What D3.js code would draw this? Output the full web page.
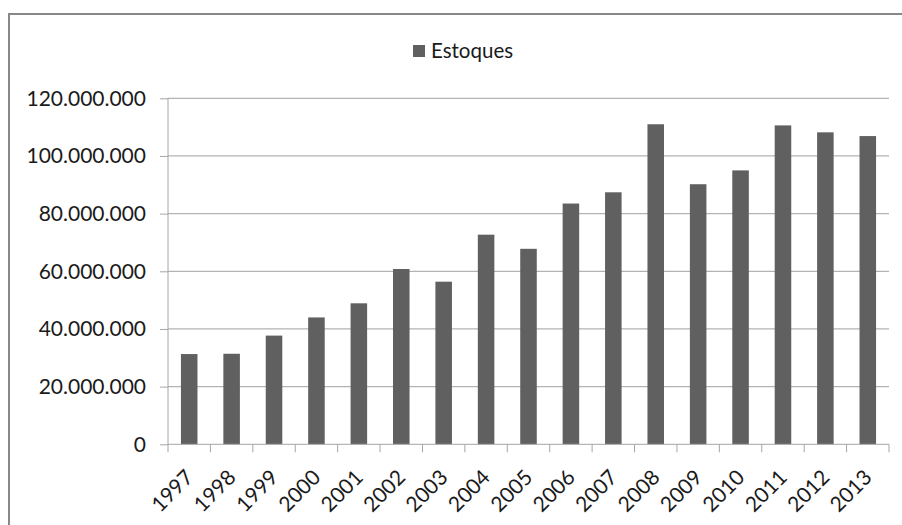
<!DOCTYPE html>
<html><head><meta charset="utf-8">
<script src="https://cdn.jsdelivr.net/npm/d3@7"></script>
<style>html,body{margin:0;padding:0;background:#fff;}svg{display:block;}</style>
</head><body>
<svg id="chart" width="902" height="525"></svg>
<script>
const years = ["1997","1998","1999","2000","2001","2002","2003","2004","2005","2006","2007","2008","2009","2010","2011","2012","2013"];
const estoques = [31300000,31400000,37700000,44000000,48900000,60800000,56400000,72700000,67800000,83500000,87400000,111000000,90200000,95000000,110600000,108200000,106900000];
const yTicks = [0,20000000,40000000,60000000,80000000,100000000,120000000];
const seriesName = "Estoques";

const svg = d3.select("#chart");
const font = "Lato, 'Open Sans', sans-serif";
const m = {left:168, right:889, top:98.3, bottom:444.3};

// frame
svg.append("path").attr("d","M9,525 L9,14 L902,14").attr("fill","none").attr("stroke","#888").attr("stroke-width",2);

const x = d3.scaleBand().domain(years).range([m.left,m.right]).paddingInner(0.61).paddingOuter(0.305);
const y = d3.scaleLinear().domain([0,120000000]).range([m.bottom,m.top]);
const fmt = v => d3.format(",")(v).replace(/,/g,".");

// gridlines
svg.append("g").selectAll("line").data(yTicks.filter(d=>d>0)).join("line")
  .attr("x1",m.left).attr("x2",m.right).attr("y1",d=>y(d)).attr("y2",d=>y(d))
  .attr("stroke","#b3b3b3").attr("stroke-width",1.2);

// bars
svg.append("g").selectAll("rect").data(estoques).join("rect")
  .attr("x",(d,i)=>x(years[i])).attr("width",x.bandwidth())
  .attr("y",d=>y(d)).attr("height",d=>y(0)-y(d))
  .attr("fill","#606060");

// y axis
const ya = svg.append("g").attr("transform",`translate(${m.left},0)`)
  .call(d3.axisLeft(y).tickValues(yTicks).tickFormat(fmt).tickSize(8).tickPadding(14));
ya.select(".domain").attr("stroke","#a6a6a6").attr("d",`M0,${m.bottom}V${m.top}`);
ya.selectAll(".tick line").attr("stroke","#a6a6a6");
ya.selectAll("text").attr("font-family",font).attr("font-size","21px").attr("fill","#1a1a1a");

// x axis
const xa = svg.append("g").attr("transform",`translate(0,${m.bottom})`);
xa.append("line").attr("x1",m.left).attr("x2",m.right).attr("y1",0).attr("y2",0).attr("stroke","#a6a6a6");
const bounds = years.map(d=>x(d)-x.step()*x.paddingInner()/2).concat([m.right]);
xa.selectAll("line.tk").data(bounds).join("line").attr("class","tk")
  .attr("x1",d=>d).attr("x2",d=>d).attr("y1",0).attr("y2",8).attr("stroke","#a6a6a6");
xa.selectAll("text").data(years).join("text")
  .attr("transform",d=>`translate(${x(d)+x.bandwidth()/2-5},${24}) rotate(-45)`)
  .attr("text-anchor","end").attr("dy","0.7em")
  .attr("font-family",font).attr("font-size","21px").attr("fill","#1a1a1a")
  .text(d=>d);

// legend
svg.append("rect").attr("x",413).attr("y",45).attr("width",12).attr("height",12).attr("fill","#606060");
svg.append("text").attr("x",431).attr("y",58).attr("font-family",font).attr("font-size","20.5px").attr("fill","#1a1a1a").text(seriesName);
</script>
</body></html>
